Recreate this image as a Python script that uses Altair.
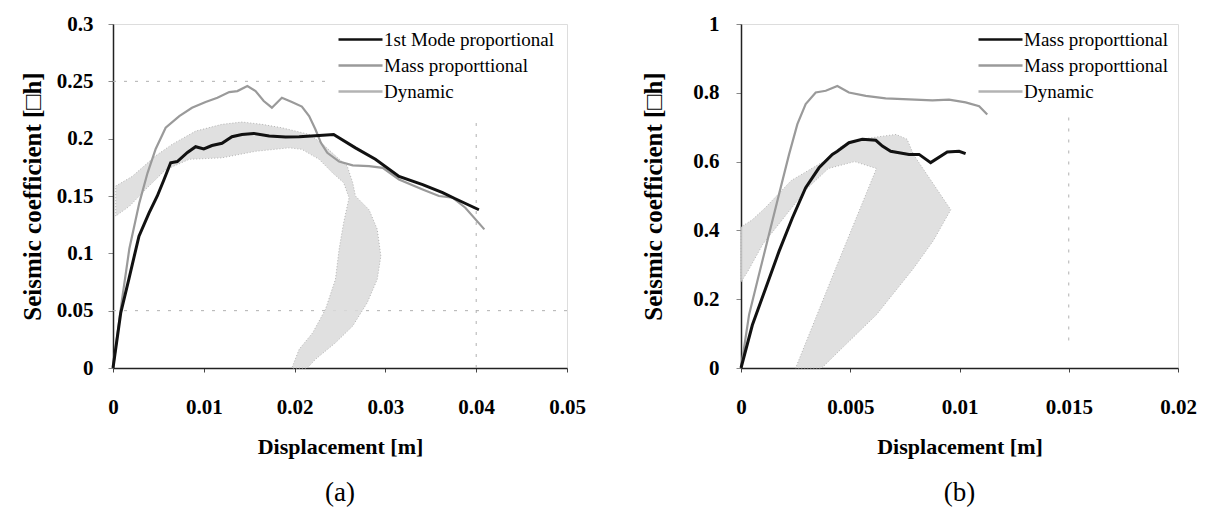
import altair as alt
import pandas as pd

# ---------------- Panel (a) data ----------------
a_mode_x = [0.0, 0.00085, 0.00176, 0.00286, 0.00396, 0.00488, 0.0056, 0.00635, 0.00708, 0.0082,
            0.0091, 0.0100, 0.0109, 0.0120, 0.0131, 0.0142, 0.0155, 0.0172, 0.0190, 0.0205,
            0.0227, 0.0243, 0.0267, 0.0289, 0.0315, 0.0341, 0.0363, 0.0377, 0.0403]
a_mode_y = [0.0, 0.048, 0.078, 0.115, 0.135, 0.150, 0.164, 0.179, 0.180, 0.188,
            0.193, 0.191, 0.194, 0.196, 0.2017, 0.2037, 0.2046, 0.2023, 0.2014, 0.2017,
            0.2028, 0.2037, 0.192, 0.182, 0.167, 0.160, 0.153, 0.1476, 0.138]

a_mass_x = [0.0, 0.0010, 0.0018, 0.0029, 0.0038, 0.0047, 0.0058, 0.0073, 0.0087, 0.0102,
            0.0115, 0.0128, 0.0137, 0.0148, 0.0157, 0.0166, 0.0175, 0.0186, 0.0197, 0.0208,
            0.0216, 0.0223, 0.0229, 0.0236, 0.0249, 0.0264, 0.0282, 0.0297, 0.0315, 0.0341,
            0.0359, 0.0374, 0.0388, 0.0409]
a_mass_y = [0.0, 0.060, 0.104, 0.144, 0.170, 0.191, 0.2095, 0.2197, 0.227, 0.232,
            0.2357, 0.2406, 0.2415, 0.2459, 0.2415, 0.2328, 0.227, 0.2357, 0.232, 0.228,
            0.2197, 0.208, 0.1964, 0.1877, 0.180, 0.1767, 0.1761, 0.1746, 0.1644, 0.1557,
            0.150, 0.1485, 0.1398, 0.1209]

# outline of the stippled "Dynamic" loop (panel a)
a_dyn_x = [0.0003, 0.0021, 0.0047, 0.0065, 0.0091, 0.0120, 0.0142, 0.0164, 0.0186, 0.0216,
           0.0230, 0.0245, 0.0258, 0.0264, 0.0267, 0.0282, 0.0291, 0.0295, 0.0291, 0.0280,
           0.0264, 0.0245, 0.0223, 0.0214, 0.0197, 0.0205, 0.0220, 0.0234, 0.0245, 0.0249,
           0.0254, 0.0260, 0.0254, 0.0242, 0.0227, 0.0208, 0.0194, 0.0157, 0.0120, 0.0084,
           0.0058, 0.0036, 0.0018, 0.0003, 0.0003]
a_dyn_y = [0.1587, 0.167, 0.185, 0.195, 0.2066, 0.2125, 0.2145, 0.2125, 0.2095, 0.2037,
           0.196, 0.185, 0.176, 0.1616, 0.150, 0.138, 0.121, 0.0976, 0.0773, 0.057,
           0.0366, 0.022, 0.0076, 0.0, 0.0, 0.0163, 0.0308, 0.0512, 0.0773, 0.1035,
           0.1267, 0.1485, 0.1616, 0.170, 0.182, 0.1907, 0.192, 0.189, 0.1833, 0.182,
           0.173, 0.1558, 0.141, 0.1325, 0.1587]

a_grid_h = [0.25, 0.05]
a_grid_h_end = [0.024, 0.05]
a_grid_v = [0.04]
a_grid_v_top = [0.22]

# ---------------- Panel (b) data ----------------
b_mode_x = [0.0, 0.00052, 0.00113, 0.00174, 0.00235, 0.00296, 0.00357, 0.00418, 0.00441, 0.00494,
            0.00555, 0.00617, 0.00647, 0.00685, 0.00769, 0.00815, 0.00868, 0.00944, 0.00998, 0.01028]
b_mode_y = [0.0, 0.125, 0.232, 0.339, 0.436, 0.524, 0.582, 0.621, 0.630, 0.655,
            0.665, 0.662, 0.645, 0.630, 0.621, 0.621, 0.597, 0.628, 0.630, 0.623]

b_mass_x = [0.0, 0.00037, 0.00082, 0.00128, 0.00174, 0.0022, 0.00258, 0.00296, 0.00342, 0.00388,
            0.00441, 0.00494, 0.00571, 0.00662, 0.00769, 0.00876, 0.00952, 0.01028, 0.0109, 0.01127]
b_mass_y = [0.0, 0.155, 0.271, 0.388, 0.505, 0.621, 0.709, 0.767, 0.801, 0.806,
            0.820, 0.801, 0.791, 0.784, 0.781, 0.778, 0.780, 0.772, 0.761, 0.737]

b_dyn_x = [0.0, 0.0, 0.0005, 0.0011, 0.0017, 0.0023, 0.0031, 0.0039, 0.0046, 0.0055,
           0.0065, 0.0071, 0.0076, 0.0079, 0.0096, 0.0088, 0.0079, 0.0062, 0.0045, 0.0037,
           0.0025, 0.0044, 0.0062, 0.0052, 0.0040, 0.0030, 0.0020, 0.0010, 0.0003, 0.0]
b_dyn_y = [0.25, 0.41, 0.43, 0.465, 0.505, 0.545, 0.575, 0.605, 0.645, 0.665,
           0.674, 0.679, 0.665, 0.62, 0.46, 0.37, 0.29, 0.155, 0.05, 0.0,
           0.0, 0.30, 0.58, 0.60, 0.58, 0.52, 0.44, 0.36, 0.28, 0.25]

b_grid_v = [0.015]
b_grid_v_lo = [0.08]
b_grid_v_hi = [0.73]

SERIES_A = ["1st Mode proportional", "Mass proporttional", "Dynamic"]
SERIES_B = ["Mass proporttional", "Mass proporttional ", "Dynamic"]
COLORS = ["#111111", "#9a9a9a", "#b3b3b3"]

FONT = "Liberation Serif, DejaVu Serif, serif"


def series_df(xs, ys, name):
    return pd.DataFrame({"x": xs, "y": ys, "s": name, "i": list(range(len(xs)))})


def panel(mode, mass, dyn, names, xdom, xticks, ydom, yticks, ytitlepad, ylabpad, caption,
          width, hgrid, vgrid, legx):
    xsc = alt.Scale(domain=xdom, nice=False, zero=False)
    ysc = alt.Scale(domain=ydom, nice=False, zero=False)
    csc = alt.Scale(domain=names, range=COLORS)
    xax = alt.Axis(values=xticks, format="~g", title="Displacement [m]", grid=False,
                   labelFont=FONT, labelFontWeight="bold", labelFontSize=21, labelColor="black",
                   titleFont=FONT, titleFontWeight="bold", titleFontSize=22, titleColor="black",
                   tickSize=4, tickColor="#444", labelPadding=24, titlePadding=19,
                   domainColor="#222", domainWidth=1.5, labelFlush=False)
    yax = alt.Axis(values=yticks, format="~g", title="Seismic coefficient [□h]", grid=False,
                   labelFont=FONT, labelFontWeight="bold", labelFontSize=21, labelColor="black",
                   titleFont=FONT, titleFontWeight="bold", titleFontSize=25, titleColor="black",
                   tickSize=5, tickColor="#888", labelPadding=ylabpad, titlePadding=ytitlepad,
                   domainColor="#222", domainWidth=1.5, labelFlush=False)
    leg = alt.Legend(title=None, orient="none", legendX=legx, legendY=3,
                     symbolType="M-2,0H2", symbolSize=484,
                     symbolStrokeWidth=2.5, labelFont=FONT, labelFontSize=19, labelColor="black",
                     labelLimit=400, rowPadding=3, labelOffset=11, padding=0)

    base_enc = dict(
        x=alt.X("x:Q", scale=xsc, axis=xax),
        y=alt.Y("y:Q", scale=ysc, axis=yax),
    )

    band = alt.Chart(dyn).mark_line(fill="#dadada", fillOpacity=0.85, strokeWidth=1,
                                    strokeDash=[1, 2]).encode(
        order="i:Q", color=alt.Color("s:N", scale=csc, legend=leg), **base_enc)
    mass_l = alt.Chart(mass).mark_line(strokeWidth=2.2).encode(
        order="i:Q", color=alt.Color("s:N", scale=csc, legend=leg), **base_enc)
    mode_l = alt.Chart(mode).mark_line(strokeWidth=3).encode(
        order="i:Q", color=alt.Color("s:N", scale=csc, legend=leg), **base_enc)

    layers = []
    if hgrid is not None:
        layers.append(alt.Chart(hgrid).mark_rule(color="#b0b0b0", strokeDash=[3, 8],
                                                 strokeWidth=1).encode(
            y=alt.Y("y:Q", scale=ysc, axis=yax), x=alt.X("x:Q", scale=xsc, axis=xax), x2="x2:Q"))
    if vgrid is not None:
        layers.append(alt.Chart(vgrid).mark_rule(color="#b0b0b0", strokeDash=[3, 8],
                                                 strokeWidth=1).encode(
            x=alt.X("x:Q", scale=xsc, axis=xax), y=alt.Y("y:Q", scale=ysc, axis=yax), y2="y2:Q"))
    layers += [band, mass_l, mode_l]
    return alt.layer(*layers).properties(
        width=width, height=344,
        title=alt.TitleParams(caption, orient="bottom", font=FONT, fontSize=27,
                              fontWeight="normal", color="black", anchor="middle", offset=23),
    ).resolve_scale(color="shared")


a_mode = series_df(a_mode_x, a_mode_y, SERIES_A[0])
a_mass = series_df(a_mass_x, a_mass_y, SERIES_A[1])
a_dyn = series_df(a_dyn_x, a_dyn_y, SERIES_A[2])
a_h = pd.DataFrame({"y": a_grid_h, "x": [0.0] * len(a_grid_h), "x2": a_grid_h_end})
a_v = pd.DataFrame({"x": a_grid_v, "y": [0.0] * len(a_grid_v), "y2": a_grid_v_top})

b_mode = series_df(b_mode_x, b_mode_y, SERIES_B[0])
b_mass = series_df(b_mass_x, b_mass_y, SERIES_B[1])
b_dyn = series_df(b_dyn_x, b_dyn_y, SERIES_B[2])
b_v = pd.DataFrame({"x": b_grid_v, "y": b_grid_v_lo, "y2": b_grid_v_hi})

pa = panel(a_mode, a_mass, a_dyn, SERIES_A, [0, 0.05], [0, 0.01, 0.02, 0.03, 0.04, 0.05],
           [0, 0.3], [0, 0.05, 0.1, 0.15, 0.2, 0.25, 0.3], 11, 15, "(a)", 454, a_h, a_v, 235)
pb = panel(b_mode, b_mass, b_dyn, SERIES_B, [0, 0.02], [0, 0.005, 0.01, 0.015, 0.02],
           [0, 1], [0, 0.2, 0.4, 0.6, 0.8, 1], 26, 17, "(b)", 437, None, b_v, 247)

chart = alt.hconcat(pa, pb, spacing=174, bounds="flush").resolve_scale(
    color="independent", x="independent", y="independent"
).resolve_legend(color="independent").properties(
    padding={"left": 19, "top": 12, "right": 5, "bottom": 5}
).configure_view(stroke="#444", strokeWidth=1.2).configure(background="white")

chart.save("out.html", embed_options={"renderer": "svg", "actions": False})
